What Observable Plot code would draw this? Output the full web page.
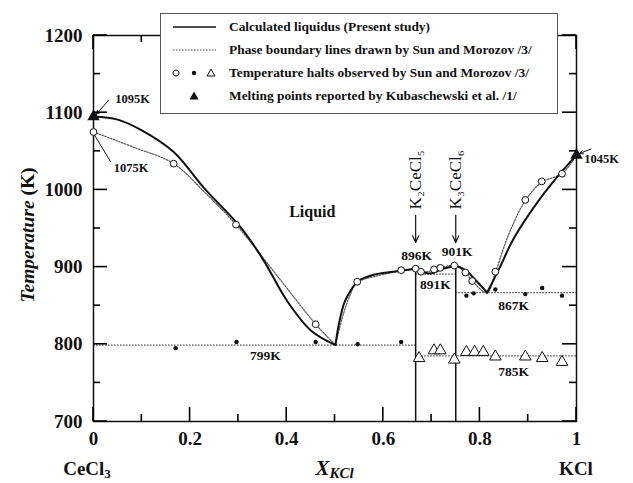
<!DOCTYPE html>
<html><head><meta charset="utf-8">
<script src="https://cdn.jsdelivr.net/npm/d3@7"></script>
<script src="https://cdn.jsdelivr.net/npm/@observablehq/plot@0.6"></script>
<style>
body{margin:0;background:#fff;}
#wrap{position:relative;width:633px;height:483px;}
#legend{position:absolute;left:160px;top:13px;width:396px;height:99px;border:1px solid #555;background:#fff;font:bold 13.4px "Liberation Serif","Times New Roman",serif;color:#111;}
#legend .row{position:absolute;left:0;height:20px;display:flex;align-items:center;white-space:nowrap;}
#legend svg{flex:none;margin-right:8px;}
</style></head><body><div id="wrap"></div>
<script>
// ---- Calculated liquidus (present study), segments ----
const liqA_x = [0, 0.05, 0.10, 0.166, 0.228, 0.304, 0.35, 0.40, 0.45, 0.501];
const liqA_T = [1095, 1091, 1077, 1049, 1003, 952, 911, 857, 818, 799];
const liqB_x = [0.501, 0.508, 0.52, 0.535, 0.546, 0.58, 0.62, 0.667];
const liqB_T = [799, 826, 855, 872, 881, 890, 894, 898];
const liqC_x = [0.667, 0.685, 0.70, 0.72, 0.75];
const liqC_T = [898, 893, 892, 897, 902];
const liqD_x = [0.75, 0.77, 0.79, 0.815];
const liqD_T = [902, 896, 884, 867];
const liqE_x = [0.815, 0.84, 0.87, 0.925, 0.97, 1.0];
const liqE_T = [867, 898, 937, 989, 1024, 1045];

// ---- Phase boundary lines by Sun and Morozov ----
const sunL_x = [0, 0.08, 0.166, 0.23, 0.295, 0.38, 0.46, 0.501];
const sunL_T = [1075, 1056, 1034, 997, 955, 889, 826, 799];
const sunR_x = [0.501, 0.515, 0.53, 0.546, 0.59, 0.637, 0.667, 0.69, 0.705, 0.718, 0.747, 0.77, 0.784, 0.815, 0.832, 0.86, 0.894, 0.928, 0.97, 1.0];
const sunR_T = [799, 834, 862, 880, 889, 895, 898, 894, 897, 899, 902, 893, 882, 867, 893, 943, 986, 1010, 1021, 1045];
const isoT  = [799, 891, 867, 785];
const isoX1 = [0, 0.667, 0.75, 0.667];
const isoX2 = [0.667, 0.75, 1, 1];

// ---- Temperature halts (Sun and Morozov) ----
const circX = [0, 0.166, 0.295, 0.46, 0.546, 0.637, 0.667, 0.678, 0.705, 0.718, 0.747, 0.77, 0.784, 0.832, 0.894, 0.928, 0.97];
const circT = [1075, 1034, 955, 826, 881, 896, 898, 894, 897, 899, 902, 893, 882, 894, 987, 1011, 1021];
const dotX = [0.17, 0.296, 0.46, 0.547, 0.637, 0.772, 0.787, 0.832, 0.894, 0.929, 0.97];
const dotT = [795, 803, 803, 800, 803, 863, 866, 871, 865, 873, 863];
const triX = [0.674, 0.705, 0.718, 0.747, 0.772, 0.789, 0.807, 0.832, 0.894, 0.929, 0.97];
const triT = [782, 792, 792, 780, 790, 790, 790, 784, 784, 782, 777];

// ---- Melting points (Kubaschewski et al.) ----
const meltX = [0, 1];
const meltT = [1095, 1045];

// ---- Compounds ----
const compX = [0.667, 0.75];
const compT = [898, 902];
const compName = ["K₂CeCl₅", "K₃CeCl₆"];
const compLabelT = [1013, 1013];
const compArrowT1 = [967, 967];
const compArrowT2 = [932, 932];

// ---- Annotations ----
const noteText = ["799K", "896K", "901K", "891K", "867K", "785K"];
const noteX = [0.356, 0.669, 0.753, 0.708, 0.870, 0.870];
const noteT = [785, 915, 920, 877, 850, 765];
const sideText = ["1095K", "1075K", "1045K"];
const sideX = [0.045, 0.042, 1.016];
const sideT = [1118, 1029, 1040];
const leadX1 = [0.031, 1.03];
const leadT1 = [1116, 1053];
const leadX2 = [0.006, 1.006];
const leadT2 = [1098, 1047];
const link1075 = {x1: [0.002], T1: [1071], x2: [0.036], T2: [1036]};
const regionText = ["Liquid"];
const regionX = [0.453];
const regionT = [971];

// ---- Axes ----
const yMajor = [700, 800, 900, 1000, 1100, 1200];
const yMinor = [750, 850, 950, 1050, 1150];
const xMajor = [0, 0.2, 0.4, 0.6, 0.8, 1];
const xMinor = [0.1, 0.3, 0.5, 0.7, 0.9];

const zip = (xs, ts, extra = {}) => xs.map((x, i) => ({x, T: ts[i], ...Object.fromEntries(Object.entries(extra).map(([k, v]) => [k, Array.isArray(v) ? v[i] : v]))}));

const liq = [
  ...zip(liqA_x, liqA_T, {s: "A"}), ...zip(liqB_x, liqB_T, {s: "B"}),
  ...zip(liqC_x, liqC_T, {s: "C"}), ...zip(liqD_x, liqD_T, {s: "D"}),
  ...zip(liqE_x, liqE_T, {s: "E"})
];
const sun = [...zip(sunL_x, sunL_T, {s: "L"}), ...zip(sunR_x, sunR_T, {s: "R"})];
const iso = isoT.map((T, i) => ({T, x1: isoX1[i], x2: isoX2[i]}));
const comps = compX.map((x, i) => ({x, T: compT[i], name: compName[i], lt: compLabelT[i], a1: compArrowT1[i], a2: compArrowT2[i]}));

// tick tables: value + tick length class
const yTickRows = [...yMajor.map(v => ({v, len: 14})), ...yMinor.map(v => ({v, len: 7}))];
const xTickRows = [...xMajor.map(v => ({v, len: 14})), ...xMinor.map(v => ({v, len: 7}))];

const serif = '"Liberation Serif","Times New Roman",serif';
const ink = "#111";
const dotted = {stroke: "#555", strokeWidth: 1.2, strokeDasharray: "1.6,1.4"};

const plot = Plot.plot({
  width: 633, height: 483,
  marginLeft: 93, marginRight: 57, marginTop: 35, marginBottom: 62,
  x: {domain: [0, 1], axis: null},
  y: {domain: [700, 1200], axis: null},
  style: {fontFamily: serif, background: "#fff", color: ink},
  marks: [
    // phase boundary lines (Sun & Morozov)
    Plot.ruleY(iso, {y: "T", x1: "x1", x2: "x2", ...dotted}),
    Plot.line(sun, {x: "x", y: "T", z: "s", curve: "catmull-rom", ...dotted}),
    // compounds verticals
    Plot.ruleX(comps, {x: "x", y1: yMajor[0], y2: "T", stroke: ink, strokeWidth: 1.5}),
    // calculated liquidus
    Plot.line(liq, {x: "x", y: "T", z: "s", curve: "catmull-rom", stroke: ink, strokeWidth: 2}),
    // frame, tick labels
    Plot.frame({stroke: ink, strokeWidth: 1.5}),
    Plot.axisY({ticks: yMajor, anchor: "left", tickSize: 0, tickPadding: 11, fontSize: 19, fontWeight: "bold", label: null, fill: ink, tickFormat: d => String(d)}),
    Plot.axisX({ticks: xMajor, anchor: "bottom", tickSize: 0, tickPadding: 10, fontSize: 19, fontWeight: "bold", label: null, fill: ink, tickFormat: d => String(d)}),
    // markers
    Plot.dot(zip(circX, circT), {x: "x", y: "T", r: 3.4, stroke: ink, fill: "white", strokeWidth: 1}),
    Plot.dot(zip(dotX, dotT), {x: "x", y: "T", r: 2.2, fill: ink}),
    Plot.dot(zip(triX, triT), {x: "x", y: "T", symbol: "triangle", r: 4.3, stroke: ink, fill: "white", strokeWidth: 1}),
    Plot.dot(zip(meltX, meltT), {x: "x", y: "T", symbol: "triangle", r: 4.6, fill: ink}),
    // compound labels and arrows
    Plot.text(comps, {x: "x", y: "lt", text: "name", rotate: -90, fontSize: 17, fill: ink}),
    Plot.arrow(comps, {x1: "x", y1: "a1", x2: "x", y2: "a2", stroke: ink, strokeWidth: 1.2, headLength: 9, headAngle: 50}),
    // annotations
    Plot.text(zip(noteX, noteT, {t: noteText}), {x: "x", y: "T", text: "t", fontSize: 13.5, fontWeight: "bold", fill: ink}),
    Plot.text(zip(sideX, sideT, {t: sideText}), {x: "x", y: "T", text: "t", textAnchor: "start", fontSize: 12.5, fontWeight: "bold", fill: ink}),
    Plot.arrow(leadX1.map((x, i) => ({x1: x, y1: leadT1[i], x2: leadX2[i], y2: leadT2[i]})), {x1: "x1", y1: "y1", x2: "x2", y2: "y2", stroke: ink, strokeWidth: 1, headLength: 6, headAngle: 50}),
    Plot.link(link1075.x1.map((x, i) => ({x1: x, y1: link1075.T1[i], x2: link1075.x2[i], y2: link1075.T2[i]})), {x1: "x1", y1: "y1", x2: "x2", y2: "y2", stroke: ink, strokeWidth: 1}),
    Plot.text(zip(regionX, regionT, {t: regionText}), {x: "x", y: "T", text: "t", fontSize: 16, fontWeight: "bold", fill: ink})
  ]
});

// inward ticks on all four sides, drawn with the plot's own scales
const sx = plot.scale("x"), sy = plot.scale("y");
const svg = d3.select(plot);
const fx0 = sx.apply(0), fx1 = sx.apply(1), fy0 = sy.apply(700), fy1 = sy.apply(1200);
const tickG = svg.append("g").attr("class", "frame-ticks");
const tickLine = (x1, y1, x2, y2) => tickG.append("path")
  .attr("d", `M${x1},${y1}L${x2},${y2}`)
  .attr("fill", "none").attr("stroke", "#000").attr("stroke-width", 1.6)
  .style("stroke", "#000").style("stroke-width", "1.6px");
for (const {v, len} of yTickRows) {
  const y = sy.apply(v);
  tickLine(fx0, y, fx0 + len, y);
  tickLine(fx1, y, fx1 - len, y);
}
for (const {v, len} of xTickRows) {
  const x = sx.apply(v);
  tickLine(x, fy0, x, fy0 - len);
  tickLine(x, fy1, x, fy1 + len);
}

// axis titles and component names
const bottomY = fy0 + 47;
const yt = svg.append("text")
  .attr("transform", `translate(27,${(fy0 + fy1) / 2 + 7}) rotate(-90)`)
  .attr("text-anchor", "middle").attr("dominant-baseline", "central")
  .attr("font-size", 19.5).attr("font-weight", "bold").attr("fill", ink).attr("font-family", serif);
yt.append("tspan").attr("font-style", "italic").text("Temperature");
yt.append("tspan").text(" (K)");

const ce = svg.append("text").attr("x", fx0 - 6).attr("y", bottomY).attr("text-anchor", "middle")
  .attr("dominant-baseline", "central").attr("font-size", 19).attr("font-weight", "bold").attr("fill", ink).attr("font-family", serif);
ce.append("tspan").text("CeCl");
ce.append("tspan").attr("font-size", 13).attr("dy", 5).text("3");

const xk = svg.append("text").attr("x", sx.apply(0.5)).attr("y", bottomY).attr("text-anchor", "middle")
  .attr("dominant-baseline", "central").attr("font-size", 21).attr("font-weight", "bold").attr("font-style", "italic").attr("fill", ink).attr("font-family", serif);
xk.append("tspan").text("X");
xk.append("tspan").attr("font-size", 15).attr("dy", 5).text("KCl");

svg.append("text").attr("x", fx1).attr("y", bottomY).attr("text-anchor", "middle")
  .attr("dominant-baseline", "central").attr("font-size", 19).attr("font-weight", "bold").attr("fill", ink).attr("font-family", serif).text("KCl");

const wrap = document.getElementById("wrap");
wrap.appendChild(plot);

// legend
const legendItems = [
  {label: "Calculated liquidus (Present study)", sym: `<line x1="12" x2="55" y1="10" y2="10" stroke="${ink}" stroke-width="1.6"/>`},
  {label: "Phase boundary lines drawn by Sun and Morozov /3/", sym: `<line x1="12" x2="55" y1="10" y2="10" stroke="#555" stroke-width="1.2" stroke-dasharray="1.6,1.4"/>`},
  {label: "Temperature halts observed by Sun and Morozov /3/", sym: `<circle cx="15" cy="10" r="3" fill="white" stroke="${ink}"/><circle cx="33" cy="10" r="2.2" fill="${ink}"/><path d="M50,6 L54,13 L46,13 Z" fill="white" stroke="${ink}"/>`},
  {label: "Melting points reported by Kubaschewski et al. /1/", sym: `<path d="M33,5.5 L37.5,13.5 L28.5,13.5 Z" fill="${ink}"/>`}
];
const lg = document.createElement("div");
lg.id = "legend";
lg.innerHTML = legendItems.map((d, i) =>
  `<div class="row" style="top:${3 + i * 23}px"><svg width="60" height="20">${d.sym}</svg><span>${d.label}</span></div>`).join("");
wrap.appendChild(lg);
</script>
</body></html>
